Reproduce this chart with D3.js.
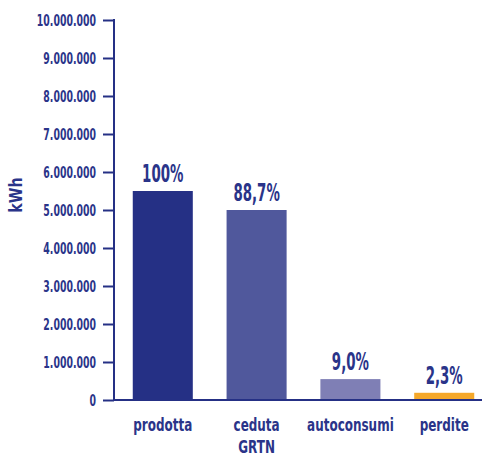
<!DOCTYPE html>
<html>
<head>
<meta charset="utf-8">
<script src="https://cdn.jsdelivr.net/npm/d3@7"></script>
<style>
  html, body { margin: 0; padding: 0; background: #ffffff; }
  svg { display: block; }
  text { font-family: "DejaVu Sans Condensed", "Liberation Sans Narrow", sans-serif; font-weight: bold; fill: #2a3489; }
</style>
</head>
<body>
<svg id="chart" width="482" height="457"></svg>
<script>
// Energy balance (kWh)
const categories = ["prodotta", "ceduta GRTN", "autoconsumi", "perdite"];
const values = [5500000, 5000000, 550000, 190000];
const percentLabels = ["100%", "88,7%", "9,0%", "2,3%"];
const barColors = ["#253085", "#50589c", "#7f7fb5", "#f5a82a"];
const yTicks = [0, 1000000, 2000000, 3000000, 4000000, 5000000, 6000000, 7000000, 8000000, 9000000, 10000000];

const W = 482, H = 457;
const axisColor = "#253085";
const svg = d3.select("#chart");

const x = d3.scaleBand()
  .domain(categories)
  .range([114, 493])
  .paddingInner(0.36)
  .paddingOuter(0.2);

const y = d3.scaleLinear()
  .domain([0, 10000000])
  .range([400, 20]);

// thousands separated by dots
const fmt = v => d3.format(",")(v).replace(/,/g, ".");

// Y axis
const yAxis = svg.append("g")
  .attr("transform", "translate(114,0)")
  .call(d3.axisLeft(y).tickValues(yTicks).tickFormat(fmt).tickSize(11).tickPadding(7));
yAxis.select(".domain").attr("stroke", axisColor).attr("stroke-width", 2)
  .attr("d", `M0,${y(10000000) - 1}V${y(0) + 1}`);
yAxis.selectAll(".tick line").attr("stroke", axisColor).attr("stroke-width", 2);
yAxis.selectAll(".tick text")
  .attr("fill", "#2a3489")
  .attr("x", 0)
  .attr("dy", "0.36em")
  .style("font-size", "16px")
  .attr("transform", "translate(-18,0) scale(0.65,1)");

// Bars
svg.append("g").selectAll("rect")
  .data(values)
  .join("rect")
  .attr("x", (d, i) => x(categories[i]))
  .attr("width", x.bandwidth())
  .attr("y", d => y(d))
  .attr("height", d => y(0) - y(d))
  .attr("fill", (d, i) => barColors[i]);

// X baseline
svg.append("line")
  .attr("x1", 113).attr("x2", W)
  .attr("y1", y(0)).attr("y2", y(0))
  .attr("stroke", axisColor).attr("stroke-width", 2);

// Percent labels above bars
svg.append("g").selectAll("text")
  .data(values)
  .join("text")
  .attr("transform", (d, i) => `translate(${x(categories[i]) + x.bandwidth() / 2},${y(d) - 9}) scale(0.62,1)`)
  .attr("text-anchor", "middle")
  .style("font-size", "24px")
  .text((d, i) => percentLabels[i]);

// Category labels (split on spaces into lines)
const catG = svg.append("g");
categories.forEach(c => {
  const lines = c.split(" ");
  lines.forEach((ln, j) => {
    catG.append("text")
      .attr("transform", `translate(${x(c) + x.bandwidth() / 2},${431 + j * 22}) scale(0.72,1)`)
      .attr("text-anchor", "middle")
      .style("font-size", "18.5px")
      .text(ln);
  });
});

// Y axis title
svg.append("text")
  .attr("transform", "translate(22,195) rotate(-90) scale(0.93,1)")
  .attr("text-anchor", "middle")
  .style("font-size", "17px")
  .text("kWh");
</script>
</body>
</html>
